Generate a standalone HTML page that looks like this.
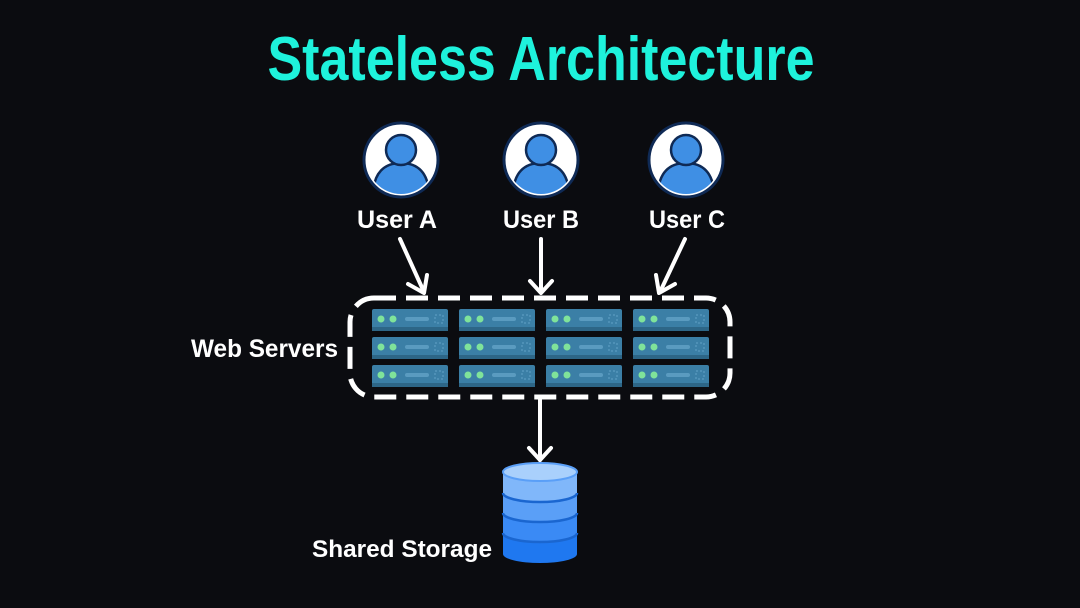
<!DOCTYPE html>
<html><head><meta charset="utf-8"><style>
html,body{margin:0;padding:0;background:#0b0c10;}
svg{display:block}
text{font-family:"Liberation Sans",sans-serif;font-weight:bold;}
</style></head><body>
<svg width="1080" height="608" viewBox="0 0 1080 608" xmlns="http://www.w3.org/2000/svg">
<defs>
<clipPath id="uc"><circle r="34"/></clipPath>
<g id="user">
<circle r="37" fill="#fff" stroke="#0f2a55" stroke-width="3"/>
<g clip-path="url(#uc)">
<path d="M-28 36 C-28 12 -16 3 0 3 C16 3 28 12 28 36 Z" fill="#3f8fe4" stroke="#0f2a55" stroke-width="2.5"/>
<circle cx="0" cy="-10" r="15" fill="#3f8fe4" stroke="#0f2a55" stroke-width="2.5"/>
</g>
</g>
<g id="srv">
<rect width="76" height="22" rx="2" fill="#3b7fa6"/>
<rect y="18" width="76" height="4" fill="#2d6687"/>
<circle cx="9" cy="10" r="3.5" fill="#7fe39a"/>
<circle cx="21" cy="10" r="3.5" fill="#7fe39a"/>
<rect x="33" y="8" width="24" height="4" rx="2" fill="#5a9bc0"/>
<rect x="63" y="6" width="8" height="8" fill="none" stroke="#5a9bc0" stroke-width="1.2" stroke-dasharray="2 2"/>
</g>
</defs>
<text x="541" y="80" font-size="62" fill="#1ef2dc" text-anchor="middle" textLength="547" lengthAdjust="spacingAndGlyphs">Stateless Architecture</text>

<use href="#user" x="401" y="160"/>
<use href="#user" x="541" y="160"/>
<use href="#user" x="686" y="160"/>
<text x="397" y="228" font-size="25" fill="#fff" text-anchor="middle" textLength="80" lengthAdjust="spacingAndGlyphs">User A</text>
<text x="541" y="228" font-size="25" fill="#fff" text-anchor="middle" textLength="76" lengthAdjust="spacingAndGlyphs">User B</text>
<text x="687" y="228" font-size="25" fill="#fff" text-anchor="middle" textLength="76" lengthAdjust="spacingAndGlyphs">User C</text>

<g stroke="#fff" stroke-width="4" fill="none" stroke-linecap="round" stroke-linejoin="round">
<line x1="400" y1="239" x2="424" y2="292"/><polyline points="408,284 424,293 427,275"/>
<line x1="541" y1="239" x2="541" y2="292"/><polyline points="530,281 541,293 552,281"/>
<line x1="685" y1="239" x2="660" y2="292"/><polyline points="656,275 659,293 675,284"/>
<line x1="540" y1="400" x2="540" y2="460"/><polyline points="529,448 540,460 551,448"/>
</g>

<rect x="350" y="298" width="380" height="99" rx="24" fill="none" stroke="#fff" stroke-width="5" stroke-dasharray="22 10"/>

<g>
<use href="#srv" x="372" y="309"/><use href="#srv" x="372" y="337"/><use href="#srv" x="372" y="365"/>
<use href="#srv" x="459" y="309"/><use href="#srv" x="459" y="337"/><use href="#srv" x="459" y="365"/>
<use href="#srv" x="546" y="309"/><use href="#srv" x="546" y="337"/><use href="#srv" x="546" y="365"/>
<use href="#srv" x="633" y="309"/><use href="#srv" x="633" y="337"/><use href="#srv" x="633" y="365"/>
</g>
<text x="338" y="357" font-size="25" fill="#fff" text-anchor="end" textLength="147" lengthAdjust="spacingAndGlyphs">Web Servers</text>

<g>
<path d="M503 472 L503 554 A37 9 0 0 0 577 554 L577 472 Z" fill="#1f78f0"/>
<path d="M503 472 L503 533 A37 9 0 0 0 577 533 L577 472 Z" fill="#3a8af5"/>
<path d="M503 472 L503 513 A37 9 0 0 0 577 513 L577 472 Z" fill="#5a9ff7"/>
<path d="M503 472 L503 493 A37 9 0 0 0 577 493 L577 472 Z" fill="#80b7fa"/>
<g fill="none" stroke="#1a66d0" stroke-width="2.5">
<path d="M503 493 A37 9 0 0 0 577 493"/>
<path d="M503 513 A37 9 0 0 0 577 513"/>
<path d="M503 533 A37 9 0 0 0 577 533"/>
</g>
<ellipse cx="540" cy="472" rx="37" ry="9" fill="#a9d0fc" stroke="#5a9ff7" stroke-width="2"/>
</g>
<text x="492" y="557" font-size="24" fill="#fff" text-anchor="end" textLength="180" lengthAdjust="spacingAndGlyphs">Shared Storage</text>
</svg>
</body></html>
